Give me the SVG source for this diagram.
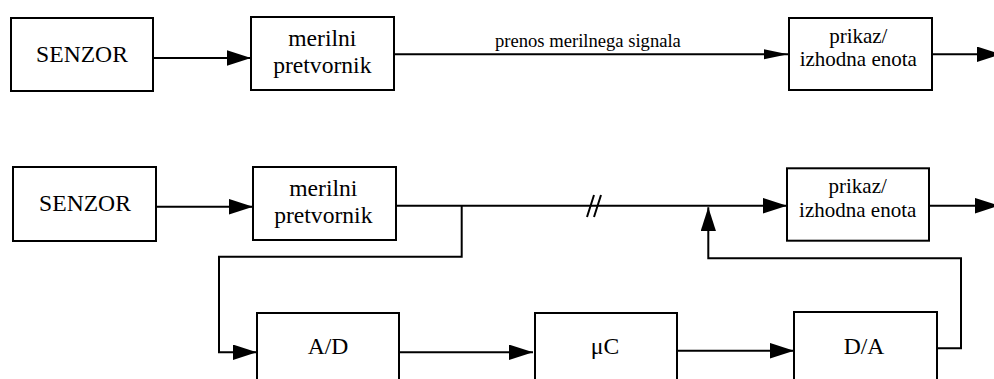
<svg xmlns="http://www.w3.org/2000/svg" width="994" height="379" viewBox="0 0 994 379">
<style>
.box{fill:#fff;stroke:#000;stroke-width:2}
.ln{fill:none;stroke:#000;stroke-width:2}
text{font-family:"Liberation Serif","DejaVu Serif",serif;fill:#000}
.t{text-anchor:middle}
.big{font-size:23.6px}
.mid{font-size:21px}
.lbl{font-size:18.6px}
</style>
<defs>
<marker id="ah" markerUnits="userSpaceOnUse" markerWidth="25" markerHeight="16" refX="24" refY="7.75" orient="auto"><path d="M0,0 L24,7.75 L0,15.5 z" fill="#000"/></marker>
<marker id="ahs" markerUnits="userSpaceOnUse" markerWidth="25" markerHeight="11" refX="24" refY="5" orient="auto"><path d="M0,0 L24,5 L0,10 z" fill="#000"/></marker>
</defs>
<g id="connectors">
<line class="ln" x1="153" y1="58" x2="251" y2="58" marker-end="url(#ah)"/>
<line class="ln" x1="394" y1="54.3" x2="788" y2="54.3" marker-end="url(#ahs)"/>
<line class="ln" x1="932" y1="54.3" x2="1001" y2="54.3" marker-end="url(#ah)"/>
<text class="lbl" x="495" y="47">prenos merilnega signala</text>
<line class="ln" x1="156" y1="206.7" x2="253" y2="206.7" marker-end="url(#ah)"/>
<line class="ln" x1="396" y1="205.7" x2="787" y2="205.7" marker-end="url(#ah)"/>
<line class="ln" x1="929" y1="205.7" x2="999" y2="205.7" marker-end="url(#ah)"/>
<path class="ln" d="M587,217 L594,195 M594,217 L601,195"/>
<path class="ln" d="M461.7,205.7 V256.7 H219 V352.3 H257" marker-end="url(#ah)"/>
<line class="ln" x1="399" y1="352.3" x2="533" y2="352.3" marker-end="url(#ah)"/>
<line class="ln" x1="677" y1="350.7" x2="794" y2="350.7" marker-end="url(#ah)"/>
<path class="ln" d="M933,348.3 H961 V258.3 H708.3 V207.3" marker-end="url(#ah)"/>
</g>
<g id="senzor1"><rect class="box" x="11" y="18" width="142" height="73"/><text class="t big" x="82" y="62.3">SENZOR</text></g>
<g id="pretvornik1"><rect class="box" x="251" y="17" width="143" height="73"/><text class="t big" x="322.3" y="45.7">merilni</text><text class="t big" x="322.3" y="73.3">pretvornik</text></g>
<g id="prikaz1"><rect class="box" x="789" y="18" width="143" height="72"/><text class="t mid" x="858.3" y="43.3">prikaz/</text><text class="t mid" x="858.3" y="65.7">izhodna enota</text></g>
<g id="senzor2"><rect class="box" x="13" y="167" width="143" height="74"/><text class="t big" x="85" y="210.7">SENZOR</text></g>
<g id="pretvornik2"><rect class="box" x="253" y="167" width="143" height="73"/><text class="t big" x="323.3" y="195.7">merilni</text><text class="t big" x="323.3" y="222.7">pretvornik</text></g>
<g id="prikaz2"><rect class="box" x="787" y="168.3" width="142" height="72.4"/><text class="t mid" x="857.7" y="193.3">prikaz/</text><text class="t mid" x="857.7" y="216.7">izhodna enota</text></g>
<g id="ad"><rect class="box" x="257" y="313" width="142" height="73"/><text class="t big" x="328" y="354">A/D</text></g>
<g id="uc"><rect class="box" x="535" y="313" width="142" height="73"/><text class="t big" x="605" y="354">μC</text></g>
<g id="da"><rect class="box" x="794" y="312" width="143" height="74"/><text class="t big" x="864" y="354">D/A</text></g>
</svg>
